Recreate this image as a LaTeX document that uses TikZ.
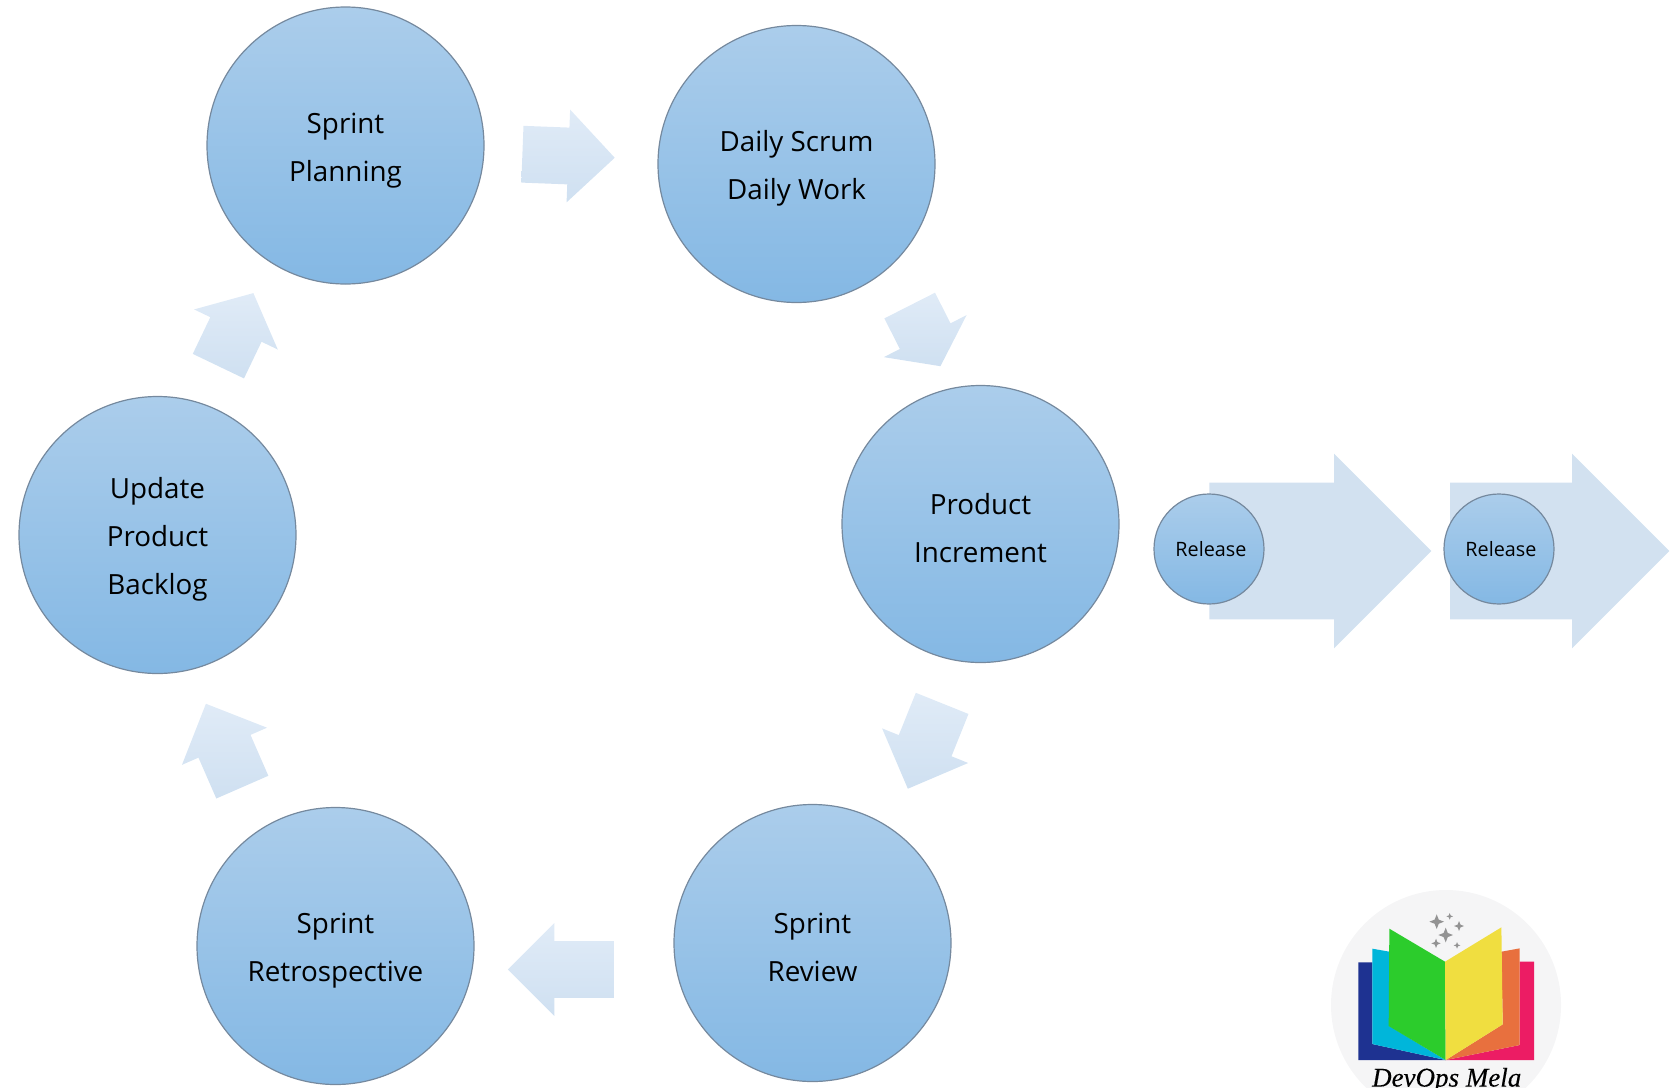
\documentclass[tikz,border=0pt]{standalone}
\usepackage{fontspec}
\setmainfont{Open Sans}
\usetikzlibrary{shapes.arrows,positioning}
\definecolor{circletop}{HTML}{ABCDEB}
\definecolor{circlebot}{HTML}{84B8E4}
\definecolor{circleline}{HTML}{75899E}
\definecolor{arrowtop}{HTML}{E0EBF7}
\definecolor{arrowbot}{HTML}{CFE0F1}
\definecolor{bigarrow}{HTML}{D2E1F0}
\definecolor{logobg}{HTML}{F5F5F6}
\newcommand{\topgap}{\rule{0pt}{15pt}}
\tikzset{
  sprintstate/.style={circle,draw=circleline,line width=.6pt,top color=circletop,bottom color=circlebot,
    minimum size=138.5pt,inner sep=0pt,align=center,font=\fontsize{13.9}{24}\selectfont},
  releasestate/.style={circle,draw=circleline,line width=.6pt,top color=circletop,bottom color=circlebot,
    minimum size=55pt,inner sep=0pt,font=\fontsize{9.9}{12}\selectfont,
    execute at begin node={\hspace*{2pt}}},
  flowarrow/.style 2 args={single arrow,anchor=tail,rotate=#1,shade,top color=arrowtop,bottom color=arrowbot,
    minimum height=#2,single arrow head extend=9pt,inner xsep=0pt,inner ysep=14pt},
  releasearrow/.style={single arrow,anchor=tail,fill=bigarrow,minimum height=#1,
    single arrow head extend=14.5pt,inner xsep=0pt,inner ysep=34pt}
}
\begin{document}
\begin{tikzpicture}[x=.5pt,y=-.5pt,node distance=145pt]
\useasboundingbox (0,0) rectangle (1678,1088);

% logo
\begin{scope}[shift={(1300,870)},x=.1667pt,y=-.1667pt]
\fill[logobg] (438,405) circle [radius=345];
\fill[fill={rgb,255:red,30;green,50;blue,145}] (175,277) -- (217,277) -- (217,522) -- (437,570) -- (175,570) -- cycle;
\fill[fill={rgb,255:red,0;green,182;blue,218}] (217,236) -- (268,245) -- (268,468) -- (437,570) -- (217,522) -- cycle;
\fill[fill={rgb,255:red,236;green,28;blue,100}] (659,275) -- (702,275) -- (702,570) -- (437,570) -- (659,525) -- cycle;
\fill[fill={rgb,255:red,232;green,112;blue,62}] (604,245) -- (659,235) -- (659,525) -- (437,570) -- (608,463) -- cycle;
\fill[fill={rgb,255:red,44;green,204;blue,44}] (268,176) -- (435,275) -- (437,570) -- (266,468) -- cycle;
\fill[fill={rgb,255:red,240;green,222;blue,64}] (435,275) -- (604,172) -- (608,463) -- (437,570) -- cycle;
\foreach \sx/\sy/\sr in {410/155/22,437/195/22,477/168/15,408/220/14,449/139/10,471/226/10}
  \fill[gray!85] (\sx,\sy-\sr) -- (\sx+.28*\sr,\sy-.28*\sr) -- (\sx+\sr,\sy) -- (\sx+.28*\sr,\sy+.28*\sr)
    -- (\sx,\sy+\sr) -- (\sx-.28*\sr,\sy+.28*\sr) -- (\sx-\sr,\sy) -- (\sx-.28*\sr,\sy-.28*\sr) -- cycle;
\node[font=\fontsize{13.5}{16}\selectfont] (logotext) at (440,630) {\fontspec{Liberation Serif}[FakeBold=0.3]\itshape DevOps Mela};
\end{scope}

% block arrows between the circles
\node[flowarrow={-2.2}{46.2pt}]  (a1) at (522,154.2)   {};
\node[flowarrow={-63.1}{34pt},single arrow tip angle=108] (a2) at (909.5,305.2) {};
\node[flowarrow={-111.9}{46pt}]  (a3) at (942.3,703)   {};
\node[flowarrow={180}{53pt}]     (a4) at (614.3,969.5) {};
\node[flowarrow={113.6}{45.5pt}] (a5) at (242.5,787.5) {};
\node[flowarrow={64.4}{40.5pt},single arrow tip angle=98] (a6) at (218.2,366.5) {};

\node[releasearrow=111pt]   (b1) at (1209,551)   {};
\node[releasearrow=109.7pt] (b2) at (1449.6,551) {};

\node[sprintstate] (s1) at (345.5,145.5) {\topgap Sprint\\Planning};
\node[sprintstate] (s2) at (796.5,164)   {\topgap Daily Scrum\\Daily Work};
\node[sprintstate] (s3) at (980.5,524)   {\topgap Product\\Increment};
\node[sprintstate] (s4) at (812.5,943)   {\topgap Sprint\\Review};
\node[sprintstate] (s5) at (335.5,946)   {\topgap Sprint\\Retrospective};
\node[sprintstate] (s6) at (157.5,535)   {\topgap Update\\Product\\Backlog};

\node[releasestate] (r1) at (1209,549) {Release};
\node[releasestate] (r2) [right of=r1] {Release};

\end{tikzpicture}
\end{document}
